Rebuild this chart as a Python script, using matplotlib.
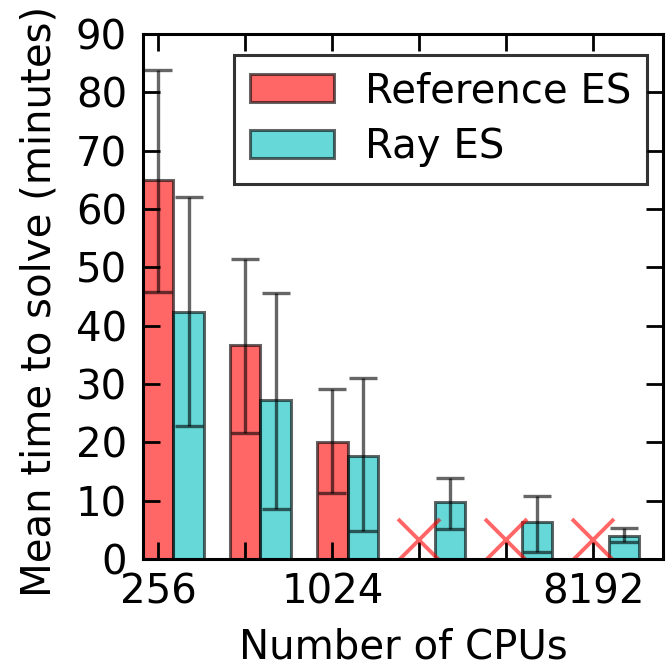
import numpy as np
import matplotlib
matplotlib.use("Agg")
import matplotlib.pyplot as plt

cpus = ["256", "512", "1024", "2048", "4096", "8192"]
tick_labels = ["256", "", "1024", "", "", "8192"]
ref_mean = [65, 36.7, 20.1]
ref_low = [45.8, 21.6, 11.3]
ref_high = [83.9, 51.4, 29.1]
ray_mean = [42.3, 27.3, 17.7, 9.8, 6.3, 3.9]
ray_low = [22.8, 8.6, 4.8, 5.1, 1.2, 2.9]
ray_high = [62.0, 45.6, 31.0, 13.9, 10.8, 5.3]
fail_y = [3.3, 3.3, 3.3]

plt.rcParams['font.family'] = 'DejaVu Sans'
plt.rcParams['font.size'] = 29

fig = plt.figure(figsize=(6.67, 6.68), dpi=100)
ax = fig.add_axes([0.2144, 0.1632, 0.7796, 0.7859])

width = 0.35
x = np.arange(len(cpus))
xr = x[:len(ref_mean)]

ref_err = [np.array(ref_mean) - np.array(ref_low), np.array(ref_high) - np.array(ref_mean)]
ray_err = [np.array(ray_mean) - np.array(ray_low), np.array(ray_high) - np.array(ray_mean)]
ekw = dict(ecolor='k', alpha=0.6, lw=2.4, capsize=10, capthick=2.4)

ax.bar(xr, ref_mean, width, color='r', alpha=0.6, edgecolor='k', linewidth=2.2,
       yerr=ref_err, error_kw=ekw, label='Reference ES')
ax.bar(x + width, ray_mean, width, color='c', alpha=0.6, edgecolor='k', linewidth=2.2,
       yerr=ray_err, error_kw=ekw, label='Ray ES')

# reference ES did not finish at these sizes
ax.plot(x[len(ref_mean):], fail_y, 'x', color='r', alpha=0.6, markersize=30, mew=2.8)

ax.set_xticks(x)
ax.set_xticklabels(tick_labels)
ax.set_xlim(-0.175, 5.8)
ax.set_ylim(0, 90)
ax.set_yticks(range(0, 91, 10))
ax.tick_params(direction='in', length=12, width=2, top=True, right=True)
ax.tick_params(axis='x', pad=10)
ax.tick_params(axis='y', pad=11.5)
for s in ax.spines.values():
    s.set_linewidth(2.2)

ax.set_xlabel('Number of CPUs', labelpad=10.5)
ax.set_ylabel('Mean time to solve (minutes)')
ax.yaxis.set_label_coords(-0.16, 0.49)

leg = ax.legend(loc='upper right', bbox_to_anchor=(0.985, 0.975), fancybox=False,
                handlelength=2.1, handletextpad=0.75, borderpad=0.4, labelspacing=0.4,
                borderaxespad=0.2)
leg.get_frame().set_edgecolor('k')
leg.get_frame().set_linewidth(2.2)

plt.savefig("out.png", dpi=100)
